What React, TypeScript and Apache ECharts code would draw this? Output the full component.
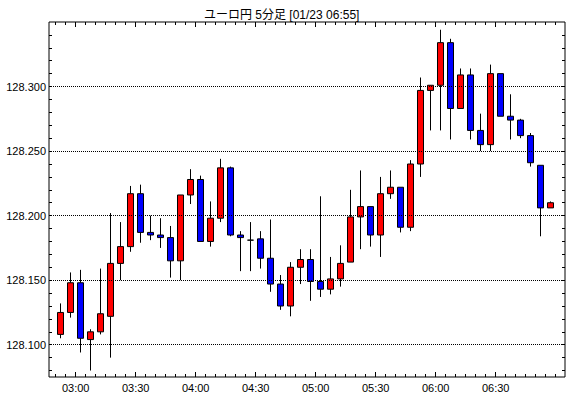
import React, { useEffect, useRef } from "react";
import * as echarts from "echarts";

const times = [
  "02:50", "02:55", "03:00", "03:05", "03:10", "03:15", "03:20", "03:25", "03:30", "03:35",
  "03:40", "03:45", "03:50", "03:55", "04:00", "04:05", "04:10", "04:15", "04:20", "04:25",
  "04:30", "04:35", "04:40", "04:45", "04:50", "04:55", "05:00", "05:05", "05:10", "05:15",
  "05:20", "05:25", "05:30", "05:35", "05:40", "05:45", "05:50", "05:55", "06:00", "06:05",
  "06:10", "06:15", "06:20", "06:25", "06:30", "06:35", "06:40", "06:45", "06:50", "06:55",
];
const openV = [
  128.108, 128.125, 128.148, 128.104, 128.110, 128.122, 128.163, 128.176, 128.217, 128.187,
  128.185, 128.183, 128.165, 128.216, 128.228, 128.180, 128.198, 128.237, 128.185, 128.181,
  128.182, 128.167, 128.147, 128.130, 128.160, 128.166, 128.149, 128.143, 128.151, 128.164,
  128.199, 128.207, 128.185, 128.217, 128.222, 128.191, 128.240, 128.297, 128.301, 128.334,
  128.283, 128.309, 128.266, 128.255, 128.310, 128.277, 128.274, 128.262, 128.239, 128.206,
];
const closeV = [
  128.125, 128.148, 128.105, 128.110, 128.124, 128.163, 128.176, 128.217, 128.187, 128.185,
  128.183, 128.165, 128.216, 128.228, 128.180, 128.198, 128.237, 128.185, 128.183, 128.181,
  128.167, 128.147, 128.130, 128.160, 128.166, 128.149, 128.143, 128.151, 128.163, 128.199,
  128.207, 128.185, 128.217, 128.222, 128.191, 128.240, 128.297, 128.301, 128.334, 128.283,
  128.309, 128.266, 128.255, 128.310, 128.277, 128.274, 128.262, 128.241, 128.206, 128.210,
];
const lowV = [
  128.105, 128.121, 128.094, 128.080, 128.108, 128.090, 128.150, 128.172, 128.179, 128.181,
  128.175, 128.152, 128.150, 128.209, 128.180, 128.176, 128.195, 128.184, 128.157, 128.157,
  128.159, 128.141, 128.127, 128.122, 128.147, 128.134, 128.137, 128.139, 128.145, 128.164,
  128.174, 128.176, 128.168, 128.213, 128.187, 128.188, 128.230, 128.266, 128.266, 128.259,
  128.283, 128.259, 128.250, 128.250, 128.277, 128.259, 128.260, 128.238, 128.184, 128.206,
];
const highV = [
  128.132, 128.156, 128.158, 128.112, 128.159, 128.202, 128.195, 128.223, 128.224, 128.200,
  128.198, 128.192, 128.216, 128.236, 128.231, 128.211, 128.244, 128.238, 128.188, 128.195,
  128.188, 128.197, 128.154, 128.164, 128.174, 128.174, 128.215, 128.168, 128.177, 128.220,
  128.235, 128.207, 128.230, 128.235, 128.222, 128.243, 128.307, 128.301, 128.344, 128.337,
  128.314, 128.314, 128.279, 128.317, 128.310, 128.294, 128.275, 128.264, 128.239, 128.211,
];
const yLabels = [128.1, 128.15, 128.2, 128.25, 128.3];
const yMinorTicks = [
  128.08, 128.09, 128.1, 128.11, 128.12, 128.13, 128.14, 128.15, 128.16, 128.17, 128.18,
  128.19, 128.2, 128.21, 128.22, 128.23, 128.24, 128.25, 128.26, 128.27, 128.28, 128.29,
  128.3, 128.31, 128.32, 128.33, 128.34,
];
const xLabelTimes = ["03:00", "03:30", "04:00", "04:30", "05:00", "05:30", "06:00", "06:30"];
const titleText = "ユーロ円 5分足 [01/23 06:55]";

const toMin = (t: string) => {
  const [h, m] = t.split(":").map(Number);
  return h * 60 + m;
};
const fmt = (v: number) => {
  const h = Math.floor(v / 60);
  const m = Math.round(v - h * 60);
  return String(h).padStart(2, "0") + ":" + String(m).padStart(2, "0");
};

const X_MIN = 166.65;
const X_MAX = 424.65;
const FONT = "'Liberation Sans', 'Noto Sans CJK JP', sans-serif";

export default function App() {
  const ref = useRef<HTMLDivElement>(null);
  useEffect(() => {
    if (!ref.current) return;
    const chart = echarts.init(ref.current, undefined, { renderer: "svg" });
    const candleData = times.map((t, i) => [
      toMin(t) + 2.5,
      openV[i],
      closeV[i],
      lowV[i],
      highV[i],
    ]);
    const minorX = times.map((t) => toMin(t)).concat([toMin(times[times.length - 1]) + 5]);
    const majorX = xLabelTimes.map(toMin);
    const baseX = {
      type: "value",
      min: X_MIN,
      max: X_MAX,
      axisLine: { show: false },
      splitLine: { show: false },
      axisLabel: { show: false },
    };
    const baseY = {
      type: "value",
      min: 128.075,
      max: 128.35,
      axisLine: { show: false },
      splitLine: { show: false },
      axisLabel: { show: false },
    };
    const tick = (vals: number[], len: number) => ({
      show: true,
      inside: true,
      length: len,
      customValues: vals,
      lineStyle: { color: "#000", width: 1 },
    });
    chart.setOption({
      animation: false,
      backgroundColor: "#fff",
      title: {
        text: titleText,
        left: 199,
        top: 4,
        textStyle: { fontSize: 12, fontWeight: "normal", color: "#000", fontFamily: FONT },
      },
      grid: {
        left: 49,
        right: 5,
        top: 22,
        bottom: 21,
        show: true,
        borderColor: "#000",
        borderWidth: 1,
        backgroundColor: "transparent",
        containLabel: false,
        outerBoundsMode: "none",
      },
      xAxis: [
        {
          ...baseX,
          position: "bottom",
          axisTick: tick(majorX, 5),
          axisLabel: {
            show: true,
            customValues: majorX,
            formatter: (v: number) => fmt(v),
            color: "#000",
            fontSize: 11,
            fontFamily: FONT,
            margin: 5,
          },
        },
        { ...baseX, position: "bottom", axisTick: tick(minorX, 3) },
        { ...baseX, position: "top", axisTick: tick(majorX, 5) },
        { ...baseX, position: "top", axisTick: tick(minorX, 3) },
      ],
      yAxis: [
        {
          ...baseY,
          position: "left",
          axisTick: tick(yMinorTicks, 3),
          axisLabel: {
            show: true,
            customValues: yLabels,
            formatter: (v: number) => v.toFixed(3),
            color: "#000",
            fontSize: 11,
            fontFamily: FONT,
            margin: 3,
          },
        },
        { ...baseY, position: "right", axisTick: tick(yMinorTicks, 3) },
      ],
      series: [
        {
          type: "line",
          data: [],
          xAxisIndex: 0,
          yAxisIndex: 0,
          z: 1,
          silent: true,
          markLine: {
            silent: true,
            symbol: ["none", "none"],
            label: { show: false },
            lineStyle: { color: "#000", type: [1, 1], width: 1 },
            data: yLabels.map((v) => ({ yAxis: v })),
          },
        },
        {
          type: "candlestick",
          xAxisIndex: 0,
          yAxisIndex: 0,
          z: 3,
          barWidth: 7,
          encode: { x: 0, y: [1, 2, 3, 4] },
          data: candleData,
          itemStyle: {
            color: "#ff0000",
            color0: "#0000ff",
            borderColor: "#000",
            borderColor0: "#000",
            borderColorDoji: "#000",
            borderWidth: 1,
          },
        },
      ],
    });
    return () => chart.dispose();
  }, []);
  return (
    <div
      ref={ref}
      style={{ position: "fixed", left: 0, top: 0, width: 570, height: 398, background: "#fff" }}
    />
  );
}
